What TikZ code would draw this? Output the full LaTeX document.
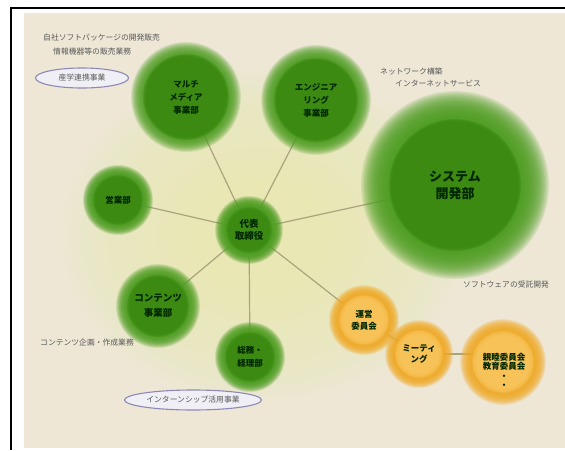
\documentclass[tikz,border=0pt]{standalone}
\usepackage{fontspec}
\setmainfont{Noto Sans CJK JP}
\usetikzlibrary{shapes.geometric}
\definecolor{beige}{HTML}{EEE7D6}
\definecolor{yglow}{HTML}{E9EEB4}
\definecolor{greenring}{HTML}{4E9E22}
\definecolor{greencore}{HTML}{3C8A12}
\definecolor{orangering}{HTML}{F4AC28}
\definecolor{orangecore}{HTML}{F7C258}
\definecolor{linkcol}{HTML}{A9A47C}
\definecolor{annocol}{HTML}{595959}
\definecolor{ovalfill}{HTML}{F0EFF5}
\definecolor{ovaldraw}{HTML}{8C8AB4}
\pgfdeclarelayer{bgl}
\pgfdeclarelayer{linel}
\pgfdeclarelayer{glowl}
\pgfsetlayers{bgl,linel,glowl,main}
% fuzzy disc: #1 colour, #2 centre, #3 outer radius, #4 fuzzy width, #5 steps, #6 opacity
\newcommand\fuzzdisc[6]{%
  \foreach \k in {0,...,#5}{%
    \pgfmathsetmacro\rr{#3-#4*\k/(#5+1)}%
    \fill[#1, fill opacity=#6] (#2) circle[radius=\rr pt];
  }%
  \pgfmathsetmacro\rr{#3-#4}%
  \fill[#1] (#2) circle[radius=\rr pt];
}
\newcommand\ball[7]{%
  \begin{pgfonlayer}{glowl}
    \fuzzdisc{#5ring}{#2}{#3}{#3*0.3}{19}{0.14}
    \fuzzdisc{#5core}{#2}{#4}{4}{5}{0.35}
  \end{pgfonlayer}
  \node[lbl, font=#6] (#1) at (#2) {#7};
}
\newcommand\fsmall{\bfseries\fontsize{8.5}{13}\selectfont}
\newcommand\fbig{\bfseries\fontsize{13}{17}\selectfont}
\tikzset{
  lbl/.style={align=center, inner sep=0pt, text=black!85!green},
  anno/.style={anchor=west, inner sep=0pt, text=annocol, font=\fontsize{7.8}{9}\selectfont},
  oval/.style={ellipse, draw=ovaldraw, fill=ovalfill, line width=1.1pt, inner sep=0pt, text=annocol, font=\fontsize{7.8}{9}\selectfont},
  link/.style={draw=linkcol, line width=1.2pt},
  frame/.style={line width=2.3pt, black}
}
\begin{document}
\begin{tikzpicture}[x=1pt, y=-1pt]
\useasboundingbox (0,0) rectangle (565,450);
\begin{pgfonlayer}{bgl}
  \fill[white] (0,0) rectangle (565,450);
  \fill[beige] (24,13) rectangle (565,448);
  \foreach \k in {0,...,29}{%
    \pgfmathsetmacro\fx{205*(1-\k/33)}%
    \pgfmathsetmacro\fy{170*(1-\k/33)}%
    \fill[yglow, fill opacity=0.065] (262,235) ellipse[x radius=\fx pt, y radius=\fy pt];
  }
  \draw[frame] (10,7.8) -- (565,7.8);
  \draw[frame] (11.2,6.7) -- (11.2,450);
\end{pgfonlayer}

\ball{mm}{186,97}{55}{43}{green}{\fsmall}{マルチ\\メディア\\事業部}
\ball{eng}{316,100}{55}{42}{green}{\fsmall}{エンジニア\\リング\\事業部}
\ball{sys}{455,185}{94}{66}{green}{\fbig}{システム\\開発部}
\ball{sales}{118,200}{35}{25}{green}{\fsmall}{営業部}
\ball{ceo}{249,230}{34}{23}{green}{\bfseries\fontsize{9.5}{12}\selectfont}{代表\\取締役}
\ball{cont}{158,306}{42}{31}{green}{\bfseries\fontsize{9.5}{15}\selectfont}{コンテンツ\\事業部}
\ball{gen}{250,357}{35}{25}{green}{\fsmall}{総務・\\経理部}
\ball{unei}{364,320}{35}{25}{orange}{\bfseries\fontsize{8.5}{12}\selectfont}{運営\\委員会}
\ball{meet}{419,354}{34}{24}{orange}{\bfseries\fontsize{8.5}{10.5}\selectfont}{ミーティ\\ング}
\begin{pgfonlayer}{glowl}
  \fuzzdisc{orangering}{503,362}{43}{13}{19}{0.14}
  \fuzzdisc{orangecore}{503,362}{31}{4}{5}{0.35}
\end{pgfonlayer}
\node[lbl, font=\bfseries\fontsize{8.5}{9.5}\selectfont] (comm) at (504,371) {親睦委員会\\教育委員会\\・\\・};

\begin{pgfonlayer}{linel}
  \foreach \t in {mm,eng,sys,sales,cont,gen,unei}
    \draw[link] (ceo.center) -- (\t.center);
  \draw[link] (unei.center) -- (meet.center);
  \draw[link] (meet.center) -- (comm.center |- meet.center);
\end{pgfonlayer}

\node[anno] (a1) at (43,38) {自社ソフトパッケージの開発販売};
\node[anno] (a2) at (53,52) {情報機器等の販売業務};
\node[oval, minimum width=93pt, minimum height=20pt] (o1) at (82,78) {産学連携事業};
\node[anno] (a3) at (380,72) {ネットワーク構築};
\node[anno] (a4) at (395,84) {インターネットサービス};
\node[anno] (a5) at (463,285) {ソフトウェアの受託開発};
\node[anno] (a6) at (40,343) {コンテンツ企画・作成業務};
\node[oval, minimum width=137pt, minimum height=20pt] (o2) at (193,400) {インターンシップ活用事業};
\end{tikzpicture}
\end{document}
